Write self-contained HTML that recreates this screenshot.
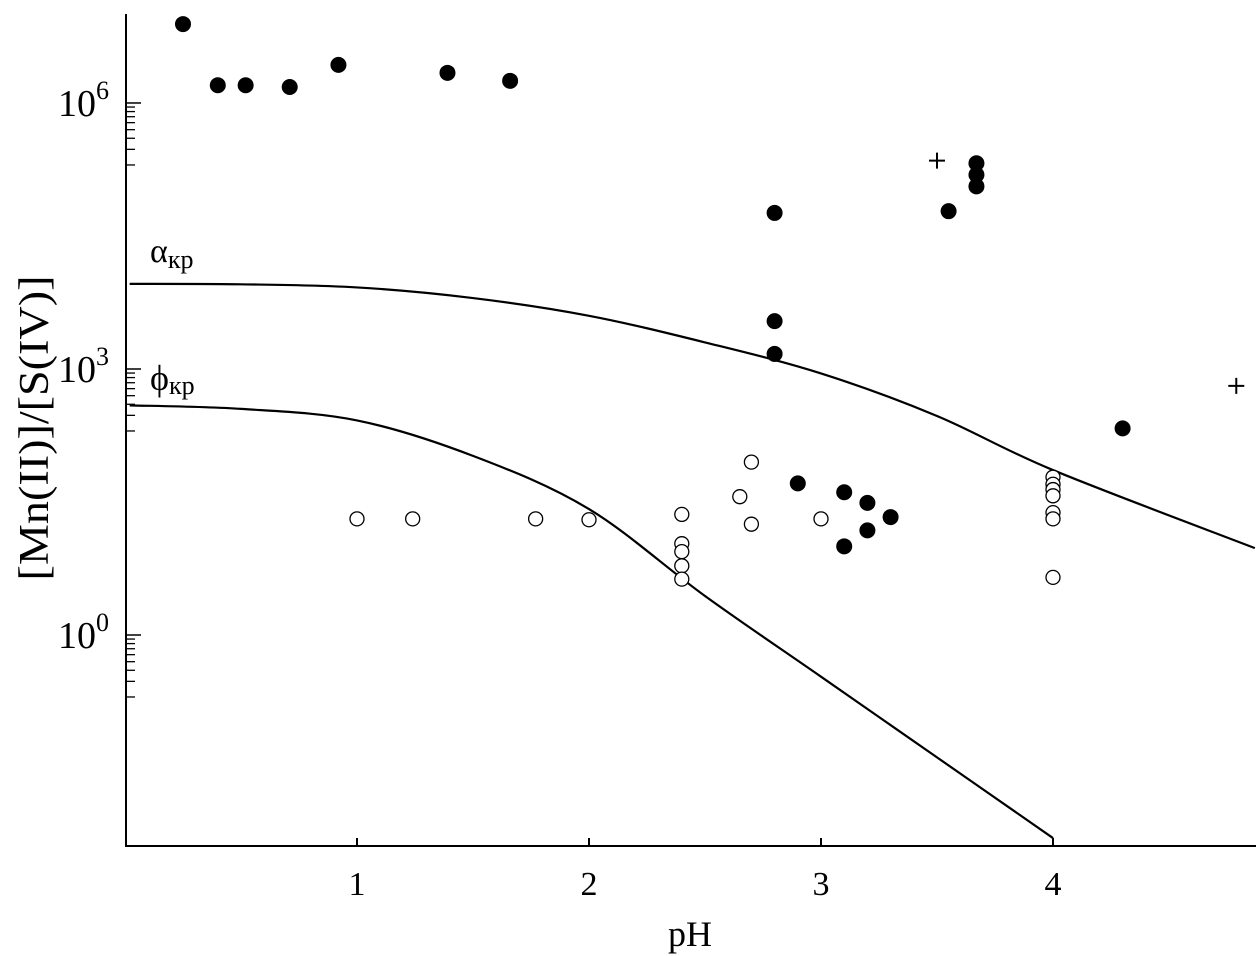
<!DOCTYPE html>
<html><head><meta charset="utf-8"><style>
html,body{margin:0;padding:0;background:#fff;}
svg{display:block;font-family:"Liberation Serif",serif;}
</style></head><body>
<svg id="chart" width="1259" height="956" viewBox="0 0 1259 956">
<g id="axes"></g>
<g id="curves"></g>
<g id="points"></g>
<text x="150" y="262" font-size="34">α<tspan font-size="26" dy="6">кр</tspan></text>
<text x="150" y="390" font-size="36">ϕ<tspan font-size="26" dy="4">кр</tspan></text>
<text x="690" y="946" font-size="36" text-anchor="middle">pH</text>
<text transform="translate(48,428) rotate(-90)" font-size="42" text-anchor="middle" textLength="305" lengthAdjust="spacingAndGlyphs">[Mn(II)]/[S(IV)]</text>
</svg>
<script>
const xTicks=[1,2,3,4];
const yDecades=[0,3,6];
const filledX=[0.25,0.40,0.52,0.71,0.92,1.39,1.66,2.80,3.55,3.67,3.67,3.67,2.80,2.80,2.90,3.10,3.20,3.10,3.20,3.30,4.30];
const filledY=[6.89,6.20,6.20,6.18,6.43,6.34,6.25,4.76,4.78,5.32,5.19,5.06,3.54,3.17,1.71,1.61,1.49,1.00,1.18,1.33,2.33];
const openX=[1.0,1.24,1.77,2.0,2.40,2.40,2.40,2.40,2.40,2.65,2.70,2.70,3.0,4.0,4.0,4.0,4.0,4.0,4.0,4.0];
const openY=[1.31,1.31,1.31,1.30,1.36,1.03,0.94,0.78,0.63,1.56,1.95,1.25,1.31,1.78,1.70,1.64,1.57,1.38,1.31,0.65];
const plusX=[3.50,4.79];
const plusY=[5.35,2.81];
const alphaX=[0.02,0.5,1.0,1.5,2.0,2.5,3.0,3.5,4.0,4.87];
const alphaY=[3.96,3.955,3.92,3.80,3.60,3.30,2.95,2.47,1.86,0.98];
const phiX=[0.02,0.5,1.0,1.5,2.0,2.5,3.0,3.5,4.0];
const phiY=[2.59,2.55,2.42,2.02,1.42,0.44,-0.47,-1.38,-2.29];
const X=v=>125+v*232;
const Y=l=>635-l*88.67;
const NS='http://www.w3.org/2000/svg';
function mk(t,a,p){const e=document.createElementNS(NS,t);for(const k in a)e.setAttribute(k,a[k]);p.appendChild(e);return e;}
const ax=document.getElementById('axes');
let e=mk('line',{x1:126,y1:14,x2:126,y2:847,stroke:'#000','stroke-width':2},ax);


e=mk('line',{x1:125,y1:846,x2:1256,y2:846,stroke:'#000','stroke-width':2},ax);


xTicks.forEach(t=>{
 e=mk('line',{x1:X(t),y1:846,x2:X(t),y2:838,stroke:'#000','stroke-width':2},ax);
 
 
 e=mk('text',{x:X(t),y:895,'font-size':34,'text-anchor':'middle'},ax);e.textContent=t;
 
 
});
yDecades.forEach(d=>{
 e=mk('line',{x1:126,y1:Y(d),x2:141,y2:Y(d),stroke:'#000','stroke-width':1.5},ax);
 
 
 for(let m=2;m<=9;m++){const yy=Y(d-1+Math.log10(m));
  e=mk('line',{x1:127,y1:yy,x2:135,y2:yy,stroke:'#000','stroke-width':1.3},ax);
  
  }
 e=mk('text',{x:58,y:Y(d)+13,'font-size':38},ax);
 e.innerHTML='10<tspan font-size="26" dy="-17">'+d+'</tspan>';
 
 
});
const cv=document.getElementById('curves');
function curve(xs,ys,name){
 const pts=xs.map((x,i)=>[X(x),Y(ys[i])]);
 let d='M'+pts[0][0]+','+pts[0][1];
 for(let i=0;i<pts.length-1;i++){
  const p0=pts[Math.max(0,i-1)],p1=pts[i],p2=pts[i+1],p3=pts[Math.min(pts.length-1,i+2)];
  d+=' C'+(p1[0]+(p2[0]-p0[0])/6)+','+(p1[1]+(p2[1]-p0[1])/6)+' '+(p2[0]-(p3[0]-p1[0])/6)+','+(p2[1]-(p3[1]-p1[1])/6)+' '+p2[0]+','+p2[1];
 }
 const el=mk('path',{d:d,fill:'none',stroke:'#000','stroke-width':2.2},cv);
 
 
}
curve(alphaX,alphaY,'alpha-curve');
curve(phiX,phiY,'phi-curve');
const pg=document.getElementById('points');
filledX.forEach((x,i)=>{
 e=mk('circle',{cx:X(x),cy:Y(filledY[i]),r:8,fill:'#000'},pg);
 
 
});
openX.forEach((x,i)=>{
 e=mk('circle',{cx:X(x),cy:Y(openY[i]),r:7,fill:'#fff',stroke:'#000','stroke-width':1.3},pg);
 
 
});
plusX.forEach((x,i)=>{
 const cx=X(x),cy=Y(plusY[i]);
 e=mk('path',{d:`M${cx-8},${cy}H${cx+8}M${cx},${cy-8}V${cy+8}`,stroke:'#000','stroke-width':2},pg);
 
 
});
</script>
</body></html>
